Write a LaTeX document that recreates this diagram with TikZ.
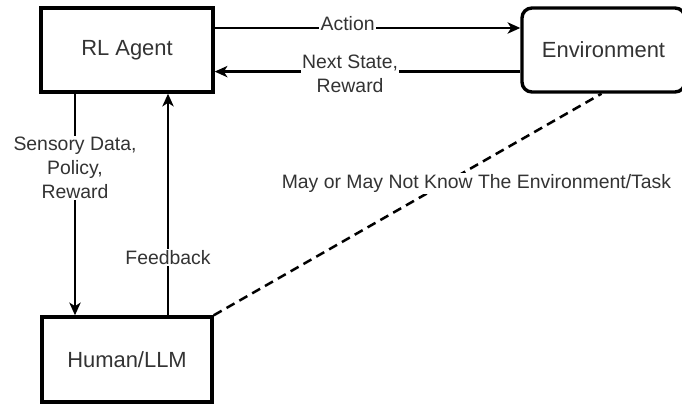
\documentclass[tikz,border=0pt]{standalone}
\usepackage{fontspec}
\setmainfont{Liberation Sans}
\usepackage{xcolor}
\usetikzlibrary{arrows.meta, positioning}
\definecolor{txtgray}{HTML}{333333}

\begin{document}
\begin{tikzpicture}[x=0.025cm, y=-0.025cm,
  box/.style={draw, line width=2.4pt, text=txtgray, font=\fontsize{15.6}{18.7}\selectfont},
  lbl/.style={fill=white, inner sep=1pt, text=txtgray, align=center, font=\fontsize{13.8}{17}\selectfont},
  conn/.style={line width=1.7pt, -{Stealth[length=9pt, width=8pt, inset=2.5pt]}}]
\useasboundingbox (0,0) rectangle (682,406);
\node[box, minimum width=4.3cm, minimum height=2.1cm] (agent) at (127,50) {RL Agent};
\node[box, rounded corners=0.25cm, minimum width=4.075cm, minimum height=2.1cm] (env) at (603.5,50) {Environment};
\node[box, minimum width=4.25cm, minimum height=2.125cm] (human) at (127,359.5) {Human/LLM};
\draw[conn] ([yshift=0.55cm]agent.east) -- ([yshift=0.55cm]env.west) node[lbl, pos=0.435, yshift=0.11cm] {Action};
\draw[conn] ([yshift=-0.54cm]env.west) -- ([yshift=-0.54cm]agent.east) node[lbl, pos=0.557, yshift=-0.045cm] {Next State,\\ Reward};
\draw[conn] ([xshift=-1.3cm]agent.south) -- ([xshift=-1.3cm]human.north) node[lbl, pos=0.336] {Sensory Data,\\ Policy,\\ Reward};
\draw[conn] ([xshift=1.025cm]human.north) -- ([xshift=1.025cm]agent.south) node[lbl, pos=0.26] {Feedback};
\draw[line width=1.8pt, dash pattern=on 6.5pt off 4pt] (human.north east) -- ([xshift=-0.05cm]env.south) node[lbl, pos=0.596, xshift=0.79cm] {May or May Not Know The Environment/Task};
\end{tikzpicture}
\end{document}
